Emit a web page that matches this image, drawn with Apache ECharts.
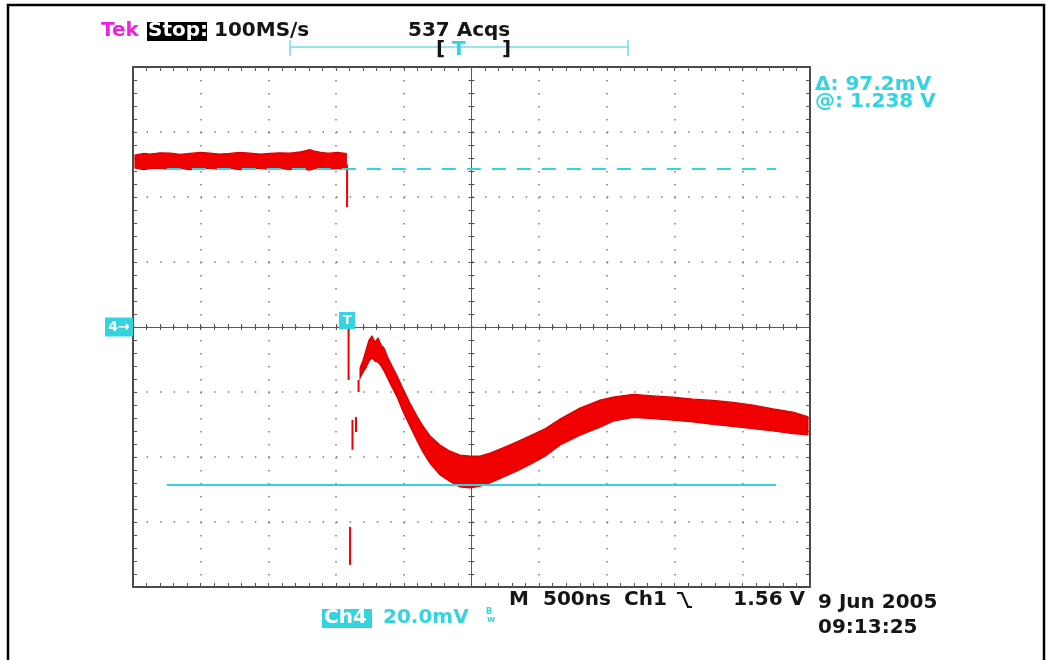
<!DOCTYPE html>
<html>
<head>
<meta charset="utf-8">
<title>Tek Ch4 capture</title>
<script src="https://cdn.jsdelivr.net/npm/echarts@6/dist/echarts.min.js"></script>
<style>
  html, body { margin: 0; padding: 0; background: #ffffff; }
  #chart { width: 1051px; height: 660px; }
</style>
</head>
<body>
<div id="chart"></div>
<script>
// Horizontal scale: 10 divisions of 500 ns, centred on 0
const timeMin = -2500, timeMax = 2500, timeStep = 500;
// Vertical scale (Ch4): 8 divisions of 20 mV
const voltMin = -80, voltMax = 80, voltStep = 20;

// Persisted trace before the trigger: time (ns), upper and lower envelope (mV)
const preTime = [-2485, -2420, -2375, -2300, -2225, -2150, -2080, -2000, -1930, -1860, -1785, -1710,
  -1635, -1560, -1490, -1415, -1340, -1265, -1230, -1195, -1160, -1120, -1080, -1045, -990, -925];
const preHigh = [52.9, 53.4, 53.2, 53.6, 53.5, 53.1, 53.4, 53.7, 53.5, 53.2, 53.4, 53.7,
  53.5, 53.2, 53.4, 53.6, 53.5, 53.9, 54.2, 54.6, 54.1, 53.8, 53.6, 53.5, 53.7, 53.4];
const preLow  = [48.9, 48.4, 48.7, 48.9, 48.5, 48.8, 48.4, 48.7, 48.9, 48.5, 48.8, 48.4,
  48.7, 48.9, 48.5, 48.8, 48.4, 48.8, 48.5, 48.3, 48.7, 48.9, 48.4, 48.6, 48.8, 48.5];

// Persisted trace after the trigger (ringing and recovery)
const postTime = [-823, -801, -779, -757, -735, -713, -690, -668, -646, -617, -587, -550, -506, -454,
  -402, -358, -306, -233, -159, -85, -11, 63, 137, 233, 336, 432, 543, 654, 801, 949, 1045,
  1193, 1340, 1488, 1636, 1784, 1931, 2079, 2227, 2374, 2485];
const postHigh = [-12.6, -10.2, -7.1, -4.0, -2.8, -4.6, -3.4, -5.5, -6.5, -9.5, -12.0, -15.0, -19.0, -23.5,
  -27.5, -30.5, -33.5, -36.3, -38.2, -39.4, -39.7, -39.7, -38.8, -37.2, -35.3, -33.5, -31.3, -28.3,
  -24.9, -22.5, -21.6, -20.7, -21.2, -21.6, -22.2, -22.6, -23.2, -24.0, -25.2, -26.2, -27.6];
const postLow = [-15.7, -13.9, -12.5, -10.5, -9.5, -10.5, -10.8, -12.0, -13.5, -16.0, -18.5, -21.5, -26.0, -30.5,
  -35.0, -38.5, -42.0, -45.5, -47.5, -49.2, -49.5, -49.0, -48.0, -46.2, -44.3, -42.3, -39.8, -36.3,
  -33.3, -30.8, -29.0, -27.8, -28.2, -28.7, -29.2, -30.0, -30.6, -31.3, -32.0, -32.8, -33.2];

// Single-shot glitch strokes around the trigger instant: time (ns), from, to (mV)
const glitchTime = [-919, -908, -897, -879, -853, -834];
const glitchFrom = [50.0, 0.0, -61.5, -28.6, -27.7, -16.3];
const glitchTo   = [36.9, -16.3, -73.2, -37.8, -32.3, -20.0];

// Horizontal bar cursors (mV) and their drawn extent (ns)
const cursorLevels = [48.6, -48.6];
const cursorSpan = [-2250, 2250];
const triggerTime = -919;
const groundLevel = 0;

// Readout texts
const headerTexts = ['Tek', 'Stop:', '100MS/s', '537 Acqs'];
const cursorReadout = ['\u0394: 97.2mV', '@: 1.238 V'];
const timebaseTexts = ['M', '500ns', 'Ch1', '1.56 V'];
const channelTexts = ['Ch4', '20.0mV'];
const dateTexts = ['9 Jun 2005', '09:13:25'];

const RED = '#f00000';
const CYAN = '#33d3e0';
const MAGENTA = '#ee22dd';
const INK = '#151515';
const FONT = 'bold 20px "DejaVu Sans", sans-serif';

const chart = echarts.init(document.getElementById('chart'), null, { renderer: 'canvas' });

const tickLine = { color: '#555', width: 1 };

function frameAxis(kind, position, withGrid) {
  const vertical = kind === 'y';
  return {
    type: 'value',
    min: vertical ? voltMin : timeMin,
    max: vertical ? voltMax : timeMax,
    interval: vertical ? voltStep : timeStep,
    position: position,
    axisLine: { show: true, onZero: false, lineStyle: { color: '#4a4a4a', width: 2 } },
    axisTick: { show: true, inside: true, length: 4, lineStyle: tickLine },
    minorTick: { show: true, splitNumber: 5, length: 4, lineStyle: tickLine },
    axisLabel: { show: false },
    splitLine: {
      show: withGrid,
      lineStyle: { color: '#7a7a7a', width: 1.5, type: vertical ? [1.5, 12.04] : [1.5, 11.5] }
    },
    minorSplitLine: { show: false }
  };
}

function centreAxis(kind, position, inside) {
  const vertical = kind === 'y';
  return {
    type: 'value',
    min: vertical ? voltMin : timeMin,
    max: vertical ? voltMax : timeMax,
    interval: vertical ? voltStep : timeStep,
    position: position,
    axisLine: { show: true, onZero: true, onZeroAxisIndex: 0, lineStyle: { color: '#5a5a5a', width: 1 } },
    axisTick: { show: true, inside: inside, length: 3, lineStyle: tickLine },
    minorTick: { show: true, splitNumber: 5, length: 3, lineStyle: tickLine },
    axisLabel: { show: false },
    splitLine: { show: false },
    minorSplitLine: { show: false }
  };
}

const bandRows = [
  { t: preTime, hi: preHigh, lo: preLow },
  { t: postTime, hi: postHigh, lo: postLow }
];

const option = {
  animation: false,
  backgroundColor: '#ffffff',
  grid: { left: 133, top: 67, width: 677, height: 520, containLabel: false, outerBoundsMode: 'none' },
  xAxis: [
    frameAxis('x', 'bottom', true),
    frameAxis('x', 'top', false),
    centreAxis('x', 'bottom', true),
    centreAxis('x', 'bottom', false)
  ],
  yAxis: [
    frameAxis('y', 'left', true),
    frameAxis('y', 'right', false),
    centreAxis('y', 'left', true),
    centreAxis('y', 'left', false)
  ],
  series: [
    {
      // Envelope of the persisted acquisitions, one polygon per segment
      type: 'custom',
      xAxisIndex: 0, yAxisIndex: 0,
      clip: true,
      z: 3,
      data: bandRows.map(function (row, i) { return [row.t[0], row.hi[0], i]; }),
      renderItem: function (params, api) {
        const row = bandRows[params.dataIndex];
        const pts = [];
        for (let i = 0; i < row.t.length; i++) pts.push(api.coord([row.t[i], row.hi[i]]));
        for (let i = row.t.length - 1; i >= 0; i--) pts.push(api.coord([row.t[i], row.lo[i]]));
        return {
          type: 'polygon',
          shape: { points: pts },
          style: { fill: RED, stroke: '#d80000', lineWidth: 1.2 }
        };
      }
    },
    {
      // Glitch strokes at the trigger point
      type: 'custom',
      xAxisIndex: 0, yAxisIndex: 0,
      z: 3,
      data: glitchTime.map(function (t, i) { return [t, glitchFrom[i], glitchTo[i]]; }),
      renderItem: function (params, api) {
        const a = api.coord([api.value(0), api.value(1)]);
        const b = api.coord([api.value(0), api.value(2)]);
        return {
          type: 'line',
          shape: { x1: a[0], y1: a[1], x2: b[0], y2: b[1] },
          style: { stroke: RED, lineWidth: 2 }
        };
      }
    },
    {
      type: 'line',
      xAxisIndex: 0, yAxisIndex: 0,
      z: 4,
      symbol: 'none',
      silent: true,
      lineStyle: { color: CYAN, width: 2, type: [14, 11] },
      data: cursorSpan.map(function (t) { return [t, cursorLevels[0]]; })
    },
    {
      type: 'line',
      xAxisIndex: 0, yAxisIndex: 0,
      z: 4,
      symbol: 'none',
      silent: true,
      lineStyle: { color: CYAN, width: 2, type: 'solid' },
      data: cursorSpan.map(function (t) { return [t, cursorLevels[1]]; })
    }
  ]
};

chart.setOption(option);

function txt(text, x, y, fill, align) {
  return {
    type: 'text',
    z: 10,
    style: {
      text: text, x: x, y: y, fill: fill, font: FONT,
      textAlign: align || 'left', align: align || 'left',
      textVerticalAlign: 'middle', verticalAlign: 'middle'
    }
  };
}

const trigX = chart.convertToPixel({ xAxisIndex: 0 }, triggerTime);
const zeroY = chart.convertToPixel({ yAxisIndex: 0 }, groundLevel);
const BAR = '#74dde6';

const graphics = [
  // Outer frame of the screen capture
  { type: 'rect', z: 1, shape: { x: 8, y: 5, width: 1036, height: 700 },
    style: { fill: 'none', stroke: '#000', lineWidth: 2.5 } },

  // Header line
  txt(headerTexts[0], 101, 31, MAGENTA),
  { type: 'rect', z: 9, shape: { x: 147, y: 22, width: 60, height: 19 }, style: { fill: '#000' } },
  txt(headerTexts[1], 148, 31, '#ffffff'),
  txt(headerTexts[2], 214, 31, INK),
  txt(headerTexts[3], 408, 31, INK),

  // Record position bar
  { type: 'line', z: 9, shape: { x1: 290, y1: 47, x2: 628, y2: 47 }, style: { stroke: BAR, lineWidth: 1.5 } },
  { type: 'line', z: 9, shape: { x1: 290, y1: 40, x2: 290, y2: 56 }, style: { stroke: BAR, lineWidth: 1.5 } },
  { type: 'line', z: 9, shape: { x1: 628, y1: 40, x2: 628, y2: 56 }, style: { stroke: BAR, lineWidth: 1.5 } },
  txt('[', 436, 50, INK),
  txt('T', 452, 50, CYAN),
  txt(']', 502, 50, INK),

  // Cursor readout
  txt(cursorReadout[0], 815, 85, CYAN),
  txt(cursorReadout[1], 815, 102, CYAN),

  // Timebase / trigger readout
  txt(timebaseTexts[0], 509, 600, INK),
  txt(timebaseTexts[1], 543, 600, INK),
  txt(timebaseTexts[2], 624, 600, INK),
  { type: 'polyline', z: 10, shape: { points: [[677, 593], [682, 593], [688, 607], [692, 607]] },
    style: { stroke: INK, lineWidth: 2.2, fill: 'none' } },
  txt(timebaseTexts[3], 805, 600, INK, 'right'),

  // Channel readout
  { type: 'rect', z: 9, shape: { x: 322, y: 609, width: 50, height: 19 }, style: { fill: CYAN } },
  txt(channelTexts[0], 324, 618, '#ffffff'),
  txt(channelTexts[1], 383, 618, CYAN),
  { type: 'text', z: 10, style: { text: 'B', x: 486, y: 608, fill: CYAN, font: 'bold 8px "DejaVu Sans"' } },
  { type: 'text', z: 10, style: { text: 'w', x: 487, y: 615, fill: CYAN, font: 'bold 9px "DejaVu Sans"' } },

  // Date and time
  txt(dateTexts[0], 818, 603, INK),
  txt(dateTexts[1], 818, 628, INK),

  // Ch4 ground marker
  { type: 'rect', z: 9, shape: { x: 105, y: zeroY - 9.5, width: 28, height: 19 }, style: { fill: CYAN } },
  { type: 'text', z: 10, style: { text: '4\u2192', x: 119, y: zeroY, fill: '#ffffff',
    font: 'bold 14px "DejaVu Sans"', textAlign: 'center', textVerticalAlign: 'middle', align: 'center', verticalAlign: 'middle' } },

  // Trigger position marker
  { type: 'rect', z: 9, shape: { x: trigX - 8, y: zeroY - 15, width: 16, height: 17 }, style: { fill: CYAN } },
  { type: 'text', z: 10, style: { text: 'T', x: trigX, y: zeroY - 6.5, fill: '#ffffff',
    font: 'bold 13px "DejaVu Sans"', textAlign: 'center', textVerticalAlign: 'middle', align: 'center', verticalAlign: 'middle' } }
];

chart.setOption({ graphic: graphics });
</script>
</body>
</html>
